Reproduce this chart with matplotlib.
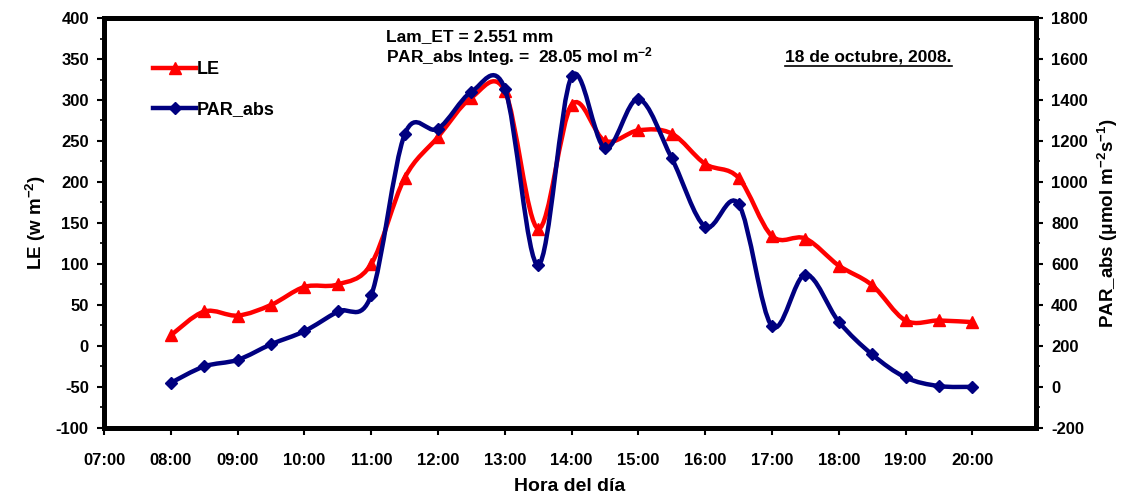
import numpy as np
import matplotlib.pyplot as plt
from matplotlib.path import Path
from matplotlib.patches import PathPatch
from matplotlib.lines import Line2D
from matplotlib.ticker import MultipleLocator

plt.rcParams['font.family'] = ['Liberation Sans', 'DejaVu Sans']
plt.rcParams['font.weight'] = 'bold'
plt.rcParams['axes.unicode_minus'] = False
plt.rcParams['mathtext.fontset'] = 'custom'
plt.rcParams['mathtext.rm'] = 'Liberation Sans:bold'
plt.rcParams['mathtext.bf'] = 'Liberation Sans:bold'
plt.rcParams['mathtext.default'] = 'rm'

# --- données (heures décimales, toutes les 30 min) ---
horas = [8.0, 8.5, 9.0, 9.5, 10.0, 10.5, 11.0, 11.5, 12.0, 12.5, 13.0, 13.5, 14.0,
         14.5, 15.0, 15.5, 16.0, 16.5, 17.0, 17.5, 18.0, 18.5, 19.0, 19.5, 20.0]
le = [13, 42, 37, 50, 72, 75, 100, 205, 255, 303, 311, 143, 294,
      250, 263, 259, 222, 205, 134, 131, 98, 74, 31, 31, 29]
par_abs = [20, 100, 132, 208, 272, 368, 448, 1232, 1260, 1440, 1455, 595, 1515,
           1165, 1405, 1115, 782, 892, 296, 548, 318, 158, 46, 4, 0]
xtick_labels = ['07:00', '08:00', '09:00', '10:00', '11:00', '12:00', '13:00',
                '14:00', '15:00', '16:00', '17:00', '18:00', '19:00', '20:00']


def smooth_path(x, y):
    # courbe lissée type Excel (Bezier Catmull-Rom passant par les points)
    p = np.column_stack([x, y]).astype(float)
    pts = np.vstack([p[0], p, p[-1]])
    verts = [p[0]]
    codes = [Path.MOVETO]
    for i in range(1, len(pts) - 2):
        c1 = pts[i] + (pts[i + 1] - pts[i - 1]) / 6.0
        c2 = pts[i + 1] - (pts[i + 2] - pts[i]) / 6.0
        verts += [c1, c2, pts[i + 1]]
        codes += [Path.CURVE4] * 3
    return Path(verts, codes)


fig = plt.figure(figsize=(11.32, 5.01), dpi=100)
ax = fig.add_axes([0.092, 0.146, 0.823, 0.818])
ax2 = ax.twinx()

red = '#ff0000'
navy = '#000080'

ax.add_patch(PathPatch(smooth_path(horas, le), facecolor='none', edgecolor=red, lw=3.2))
ax.plot(horas, le, linestyle='none', marker='^', ms=9, color=red)
ax2.add_patch(PathPatch(smooth_path(horas, par_abs), facecolor='none', edgecolor=navy, lw=3.2))
ax2.plot(horas, par_abs, linestyle='none', marker='D', ms=6, color=navy)

ax.set_xlim(7, 20.95)
ax.set_ylim(-100, 400)
ax2.set_ylim(-200, 1800)
ax.set_xticks(range(7, 21))
ax.set_xticklabels(xtick_labels)
ax.yaxis.set_major_locator(MultipleLocator(50))
ax.yaxis.set_minor_locator(MultipleLocator(25))
ax2.yaxis.set_major_locator(MultipleLocator(200))
ax2.yaxis.set_minor_locator(MultipleLocator(100))

for a in (ax, ax2):
    for s in a.spines.values():
        s.set_linewidth(3.5)
    a.tick_params(axis='both', which='major', direction='out', length=5, width=1.5,
                  labelsize=12, colors='black', pad=6)
    a.tick_params(axis='y', which='minor', direction='out', length=3, width=1.2)
ax.tick_params(axis='x', pad=13)

ax.set_xlabel('Hora del día', fontsize=14, fontweight='bold', labelpad=7)
ax.set_ylabel(r'LE (w m$^{-2}$)', fontsize=13.5, fontweight='bold', labelpad=6)
ax2.set_ylabel(r'PAR_abs ($\mathrm{\mu}$mol m$^{-2}$s$^{-1}$)', fontsize=13.5,
               fontweight='bold', labelpad=6)

ax.text(0.303, 0.955, 'Lam_ET = 2.551 mm', transform=ax.transAxes,
        fontsize=12.5, fontweight='bold', va='center')
ax.text(0.303, 0.905, r'PAR_abs Integ. =  28.05 mol m$^{-2}$', transform=ax.transAxes,
        fontsize=12.5, fontweight='bold', va='center')
fecha = ax.text(0.731, 0.905, '18 de octubre, 2008.', transform=ax.transAxes,
                fontsize=12.5, fontweight='bold', va='center')

handles = [Line2D([], [], color=red, lw=3.2, marker='^', ms=9),
           Line2D([], [], color=navy, lw=3.2, marker='D', ms=6)]
ax.legend(handles, ['LE', 'PAR_abs'], loc='upper left', bbox_to_anchor=(0.035, 0.935),
          frameon=False, handlelength=2.4, handletextpad=0.0, labelspacing=1.3,
          prop={'size': 13, 'weight': 'bold'})

# soulignement de la date
fig.canvas.draw()
bb = fecha.get_window_extent().transformed(fig.transFigure.inverted())
fig.add_artist(Line2D([bb.x0, bb.x1], [bb.y0 - 0.004, bb.y0 - 0.004],
                      transform=fig.transFigure, color='black', lw=1.2))

plt.savefig('out.png', dpi=100)
